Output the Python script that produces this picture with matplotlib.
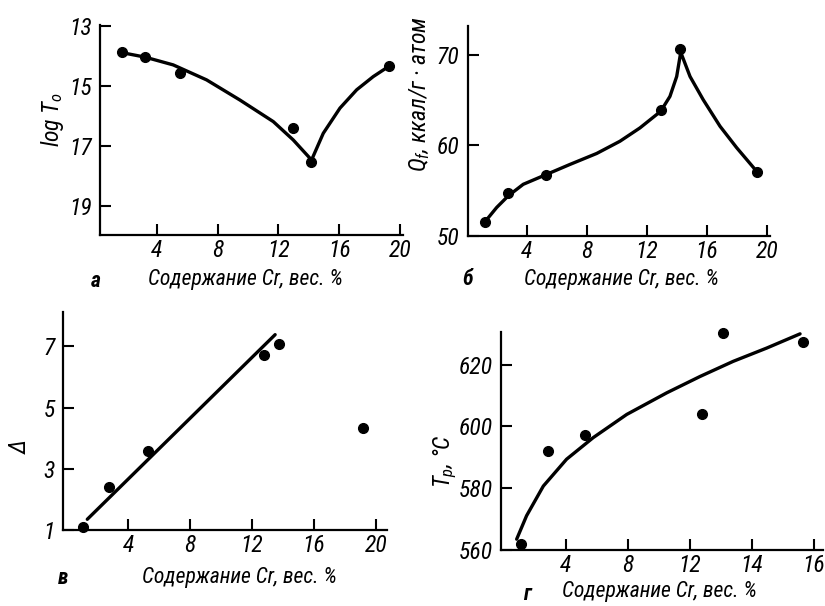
import matplotlib
matplotlib.use("Agg")
import matplotlib.pyplot as plt
from matplotlib import font_manager

ttf = font_manager.fontManager.ttflist
names = {f.name for f in ttf}
has_dv_cond = any(f.name == "DejaVu Sans" and "ondensed" in str(f.stretch) for f in ttf)
STRETCH = "normal"
if "Liberation Sans Narrow" in names:
    FAM = "Liberation Sans Narrow"
elif "Roboto Condensed" in names:
    FAM = "Roboto Condensed"
elif has_dv_cond:
    FAM = "DejaVu Sans"
    STRETCH = "condensed"
elif "Roboto" in names:
    FAM = "Roboto"
else:
    FAM = "DejaVu Sans"

plt.rcParams["font.family"] = [FAM, "DejaVu Sans"]
plt.rcParams["font.style"] = "italic"
plt.rcParams["font.stretch"] = STRETCH
plt.rcParams["mathtext.fontset"] = "custom"
plt.rcParams["mathtext.it"] = FAM + ":italic"
plt.rcParams["mathtext.rm"] = FAM + ":italic"
plt.rcParams["mathtext.cal"] = FAM + ":italic"

# ---- data: panel a (log tau0) ----
a_x = [1.68, 3.23, 5.49, 12.95, 14.16, 19.25]
a_y = [13.88, 14.05, 14.58, 16.41, 17.54, 14.33]
a_fit_x = [1.68, 3.21, 5.07, 7.27, 9.46, 11.66, 12.97, 14.18, 14.95, 16.05, 17.15, 18.24, 19.23]
a_fit_y = [13.89, 14.04, 14.30, 14.80, 15.47, 16.19, 16.80, 17.47, 16.58, 15.74, 15.13, 14.69, 14.36]
a_yticks = [13, 15, 17, 19]

# ---- data: panel b (Qf) ----
b_x = [1.22, 2.77, 5.29, 12.93, 14.22, 19.37]
b_y = [51.57, 54.7, 56.72, 63.9, 70.66, 57.07]
b_fit_x = [1.22, 2.0, 2.77, 3.77, 5.29, 6.89, 8.67, 10.22, 11.55, 12.93, 13.55, 14.0, 14.27,
           14.89, 15.77, 16.89, 18.0, 19.37]
b_fit_y = [51.57, 53.15, 54.43, 55.71, 56.78, 57.91, 59.12, 60.47, 61.94, 63.77, 65.42, 67.62, 70.3,
           67.62, 65.05, 62.12, 59.75, 57.07]
b_yticks = [50, 60, 70]

# ---- data: panel v (Delta) ----
c_x = [1.07, 2.73, 5.27, 12.78, 13.75, 19.2]
c_y = [1.11, 2.39, 3.59, 6.71, 7.09, 4.32]
c_fit_x = [1.35, 13.49]
c_fit_y = [1.35, 7.38]
c_yticks = [1, 3, 5, 7]

# ---- data: panel g (Tp) ----
d_x = [1.08, 2.82, 5.23, 12.8, 14.15, 19.27]
d_y = [561.9, 592.0, 597.1, 603.9, 630.2, 627.2]
d_fit_x = [0.82, 1.46, 2.54, 4.04, 5.76, 7.92, 10.5, 12.65, 14.79, 16.95, 19.1]
d_fit_y = [563.5, 571.1, 580.7, 589.4, 596.4, 603.9, 610.9, 616.2, 621.1, 625.4, 630.0]
d_yticks = [560, 580, 600, 620]

x_ticks = [4, 8, 12, 16, 20]
x_ticklabels = ["4", "8", "12", "16", "20"]
d_xticklabels = ["4", "8", "12", "14", "16"]

xlabel = "Содержание Cr, вес. %"
ylab_a = r"log $\mathcal{T}_o$"
ylab_b = r"$Q_f$, ккал/г · атом"
ylab_c = "Δ"
ylab_d = r"$T_p$, °C"

W, H = 825, 606
fig = plt.figure(figsize=(W / 100, H / 100), dpi=100)
fig.patch.set_facecolor("white")
renderer = fig.canvas.get_renderer()


def fit_size(s, target, base=16.0, cap=17.0, **kw):
    t = fig.text(0, 0, s, fontsize=base, **kw)
    w = t.get_window_extent(renderer).width
    t.remove()
    return min(cap, base * target / w)


FS_X = fit_size(xlabel, 196)
FS_T = fit_size("620", 34)
FS_QB = fit_size(ylab_b, 175)
FS_LA = fit_size(ylab_a, 62)
FS_LD = fit_size(ylab_d, 62)


def box(l, t, r, b):
    return [l / W, 1 - b / H, (r - l) / W, (b - t) / H]


LW = 2.4
MS = 7


def style(ax, xlim, ylim, yticks, xlabels, ypad):
    ax.set_xlim(*xlim)
    ax.set_ylim(*ylim)
    for s in ["top", "right"]:
        ax.spines[s].set_visible(False)
    for s in ["left", "bottom"]:
        ax.spines[s].set_linewidth(1.6)
        ax.spines[s].set_color("black")
    ax.set_xticks(x_ticks)
    ax.set_xticklabels(xlabels)
    ax.set_yticks(yticks)
    ax.set_yticklabels([str(v) for v in yticks])
    ax.tick_params(axis="both", direction="in", length=8, width=1.5, labelsize=FS_T)
    ax.tick_params(axis="x", pad=3)
    ax.tick_params(axis="y", pad=ypad)
    ax.set_facecolor("none")


def draw(ax, fx, fy, px, py):
    ax.plot(fx, fy, color="black", lw=LW, solid_joinstyle="round",
            solid_capstyle="round", clip_on=False)
    ax.plot(px, py, "o", color="black", ms=MS, clip_on=False, zorder=3)


# panel a
ax1 = fig.add_axes(box(100, 25, 403, 235))
draw(ax1, a_fit_x, a_fit_y, a_x, a_y)
style(ax1, (0.25, 20.2), (19.97, 12.97), a_yticks, x_ticklabels, 6)

# panel b
ax2 = fig.add_axes(box(468, 26, 770, 236))
draw(ax2, b_fit_x, b_fit_y, b_x, b_y)
style(ax2, (0.09, 20.22), (50.0, 73.2), b_yticks, x_ticklabels, 6)

# panel v
ax3 = fig.add_axes(box(63, 312, 387, 530))
draw(ax3, c_fit_x, c_fit_y, c_x, c_y)
style(ax3, (-0.22, 20.72), (1.0, 8.12), c_yticks, x_ticklabels, 6)

# panel g
ax4 = fig.add_axes(box(501, 332, 823, 550))
draw(ax4, d_fit_x, d_fit_y, d_x, d_y)
style(ax4, (-0.19, 20.58), (560.0, 630.6), d_yticks, d_xticklabels, 6)


def ftext(x, y, s, fs, rot=0, **kw):
    fig.text(x / W, 1 - y / H, s, rotation=rot, ha="center", va="center",
             fontsize=fs, **kw)


# panel letters and x labels
ftext(96, 281, "а", FS_X, fontweight="bold")
ftext(245, 280, xlabel, FS_X)
ftext(468, 279, "б", FS_X, fontweight="bold")
ftext(621, 280, xlabel, FS_X)
ftext(63, 578, "в", FS_X, fontweight="bold")
ftext(239, 577, xlabel, FS_X)
ftext(527, 594, "г", FS_X, fontweight="bold")
ftext(659, 592, xlabel, FS_X)

# y labels
ftext(53, 120, ylab_a, FS_LA, rot=90)
ftext(420, 94, ylab_b, FS_QB, rot=90)
ftext(20, 447, ylab_c, FS_T, rot=90)
ftext(445, 461, ylab_d, FS_LD, rot=90)

fig.savefig("out.png", dpi=100, facecolor="white")
